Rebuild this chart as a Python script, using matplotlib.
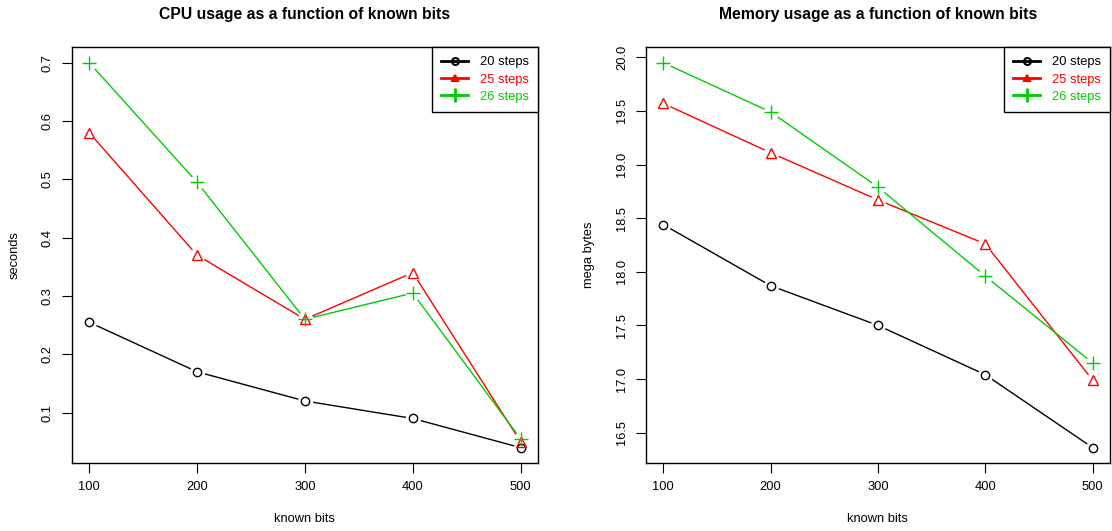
import numpy as np
import matplotlib.pyplot as plt

plt.rcParams['font.family'] = ['Liberation Sans', 'DejaVu Sans']

# data
known_bits = [100, 200, 300, 400, 500]
labels = ["20 steps", "25 steps", "26 steps"]
colors = ["black", "#FF0000", "#00CD00"]
markers = ["o", "^", "+"]

cpu_20 = [0.255, 0.17, 0.12, 0.09, 0.04]
cpu_25 = [0.58, 0.37, 0.26, 0.34, 0.05]
cpu_26 = [0.70, 0.495, 0.26, 0.305, 0.055]

mem_20 = [18.44, 17.87, 17.50, 17.04, 16.36]
mem_25 = [19.57, 19.11, 18.67, 18.26, 16.99]
mem_26 = [19.95, 19.49, 18.79, 17.96, 17.15]

cpu_ticks = [0.1, 0.2, 0.3, 0.4, 0.5, 0.6, 0.7]
mem_ticks = [16.5, 17.0, 17.5, 18.0, 18.5, 19.0, 19.5, 20.0]

fig = plt.figure(figsize=(11.12, 5.31), dpi=100)
ax1 = fig.add_axes([0.0647, 0.128, 0.419, 0.783])
ax2 = fig.add_axes([0.581, 0.128, 0.417, 0.783])

fs = 9.3


def draw_panel(ax, series, title, ylabel, yticks, fmt):
    # lines first, then white gaps round the points (like R type="b"), then symbols
    for ys, c in zip(series, colors):
        ax.plot(known_bits, ys, color=c, lw=1, zorder=2)
    for ys in series:
        ax.plot(known_bits, ys, ls="none", marker="o", ms=10,
                mfc="white", mec="white", zorder=3)
    for ys, c, m in zip(series, colors, markers):
        if m == "+":
            ax.plot(known_bits, ys, ls="none", marker=m, ms=9.5, mew=1.0,
                    color=c, zorder=4)
        else:
            ax.plot(known_bits, ys, ls="none", marker=m, ms=6.5 if m == "^" else 6,
                    mew=1, mfc="none", mec=c, zorder=4)

    allv = np.concatenate([np.array(s) for s in series])
    lo, hi = allv.min(), allv.max()
    pad = 0.04 * (hi - lo)
    ax.set_ylim(lo - pad, hi + pad)
    ax.set_xlim(100 - 16, 500 + 16)

    ax.set_xticks(known_bits)
    ax.set_yticks(yticks)
    ax.set_yticklabels([fmt.format(t) for t in yticks], rotation=90, va="center")
    ax.tick_params(direction="out", length=7, width=0.8, labelsize=fs, pad=6)
    for sp in ax.spines.values():
        sp.set_linewidth(1)

    ax.set_title(title, fontsize=11.3, fontweight="bold", pad=20)
    ax.set_xlabel("known bits", fontsize=fs, labelpad=14)
    ax.set_ylabel(ylabel, fontsize=fs, labelpad=15)

    handles = []
    for c, m, lab in zip(colors, markers, labels):
        if m == "+":
            h, = ax.plot([], [], color=c, lw=2, marker=m, ms=10, mew=2, label=lab)
        else:
            h, = ax.plot([], [], color=c, lw=2, marker=m, ms=5, mew=1.5,
                         mfc=c if m == "^" else "none", mec=c, label=lab)
        handles.append(h)
    leg = ax.legend(handles=handles, loc="upper right", borderaxespad=0,
                    fancybox=False, edgecolor="black", framealpha=1,
                    fontsize=fs, handlelength=2.1, handletextpad=0.9,
                    labelspacing=0.4, borderpad=0.7, labelcolor="linecolor")
    leg.get_frame().set_linewidth(1)


draw_panel(ax1, [cpu_20, cpu_25, cpu_26],
           "CPU usage as a function of known bits", "seconds", cpu_ticks, "{:.1f}")
draw_panel(ax2, [mem_20, mem_25, mem_26],
           "Memory usage as a function of known bits", "mega bytes", mem_ticks, "{:.1f}")

fig.savefig("out.png", dpi=100)
